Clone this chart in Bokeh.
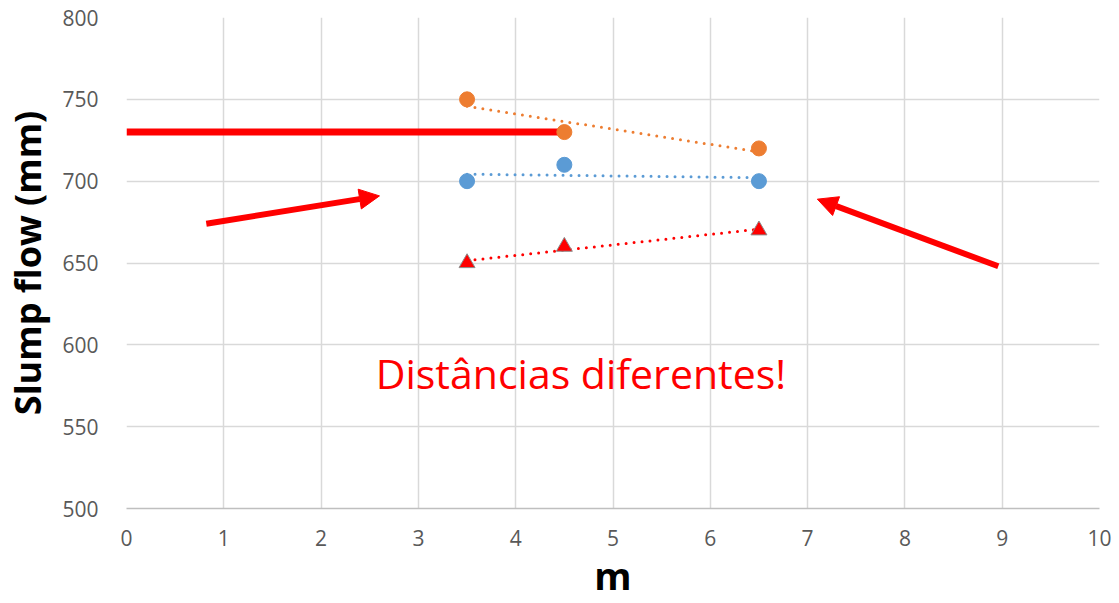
import numpy as np
from bokeh.plotting import figure
from bokeh.models import Range1d, FixedTicker, Arrow, NormalHead
from bokeh.core.properties import value
from bokeh.embed import file_html
from bokeh.resources import INLINE

# data
m_vals = [3.5, 4.5, 6.5]
orange_vals = [750, 730, 720]
blue_vals = [700, 710, 700]
red_vals = [650, 660, 670]
x_ticks = [0, 1, 2, 3, 4, 5, 6, 7, 8, 9, 10]
y_ticks = [500, 550, 600, 650, 700, 750, 800]

# annotations (data coordinates)
hline_x = [0, 4.47]
hline_y = [730, 730]
arrow1 = (0.82, 674, 2.6, 691)
arrow2 = (8.96, 648, 7.1, 689)
note_text = "Distâncias diferentes!"
note_pos = (4.67, 582.5)
x_title = "m"
y_title = "Slump flow (mm)"

FONT = "Open Sans"

p = figure(width=1119, height=603, output_backend="svg", toolbar_location=None,
           x_range=Range1d(0, 10), y_range=Range1d(500, 800),
           min_border_left=126, min_border_right=20, min_border_top=17, min_border_bottom=95)
p.outline_line_color = None
p.background_fill_color = "white"
p.border_fill_color = "white"

for ax in (p.xaxis[0], p.yaxis[0]):
    ax.major_tick_line_color = None
    ax.minor_tick_line_color = None
    ax.major_label_text_font = FONT
    ax.major_label_text_font_size = "21px"
    ax.major_label_text_color = "#595959"
    ax.axis_label_text_font = FONT
    ax.axis_label_text_font_style = "bold"
    ax.axis_label_text_color = "black"

p.xaxis.ticker = FixedTicker(ticks=x_ticks)
p.yaxis.ticker = FixedTicker(ticks=y_ticks)
p.xaxis.axis_line_color = "#bfbfbf"
p.xaxis.axis_line_width = 1.5
p.yaxis.axis_line_color = None
p.xaxis.major_label_standoff = 15
p.yaxis.major_label_standoff = 22
p.xaxis.axis_label = x_title
p.xaxis.axis_label_text_font_size = "38px"
p.xaxis.axis_label_standoff = 0
p.xaxis.axis_label_text_align = "left"
p.yaxis.axis_label = y_title
p.yaxis.axis_label_text_font_size = "36px"
p.yaxis.axis_label_standoff = 7

p.xgrid.grid_line_color = "#d9d9d9"
p.ygrid.grid_line_color = "#d9d9d9"
p.xgrid.grid_line_width = 1.5
p.ygrid.grid_line_width = 1.5

# trendlines
xs = np.array(m_vals)
for ys, col in ((orange_vals, "#ED7D31"), (blue_vals, "#5B9BD5"), (red_vals, "#FF0000")):
    k, b = np.polyfit(xs, np.array(ys, dtype=float), 1)
    xe = [xs.min(), xs.max()]
    p.line(xe, [k * xe[0] + b, k * xe[1] + b], line_color=col, line_width=3,
           line_dash="0 8", line_cap="round")

# red horizontal bar
p.line(hline_x, hline_y, line_color="#FF0000", line_width=7)

# markers
p.scatter(m_vals, orange_vals, marker="circle", size=15, fill_color="#ED7D31", line_color="#ED7D31")
p.scatter(m_vals, blue_vals, marker="circle", size=15, fill_color="#5B9BD5", line_color="#5B9BD5")
p.scatter(m_vals, red_vals, marker="triangle", size=16, fill_color="#FF0000", line_color="#8c8c8c", line_width=1)

# arrows
for (x0, y0, x1, y1) in (arrow1, arrow2):
    p.add_layout(Arrow(end=NormalHead(size=20, fill_color="#FF0000", line_color="#FF0000"),
                       x_start=x0, y_start=y0, x_end=x1, y_end=y1,
                       line_color="#FF0000", line_width=6))

p.text([note_pos[0]], [note_pos[1]], text=[note_text], text_color="#FF0000",
       text_font=value(FONT), text_font_size="41px", text_align="center", text_baseline="middle")

open("out.html", "w").write(file_html(p, INLINE))
